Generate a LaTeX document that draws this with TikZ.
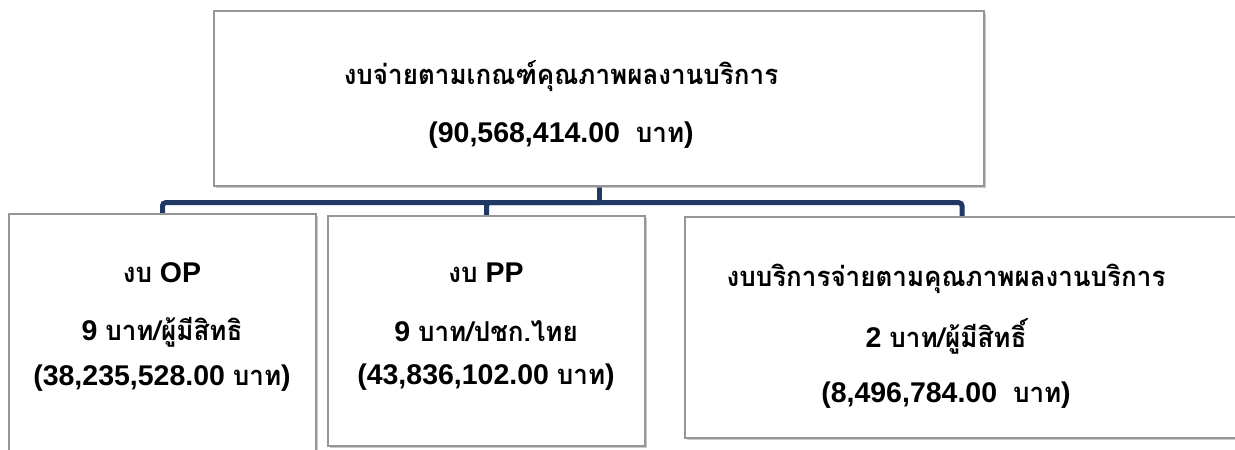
\documentclass[tikz,border=0pt]{standalone}
\usepackage{fontspec}
\setmainfont{Liberation Sans}
\newfontfamily\thaifont[Script=Thai,Scale=0.96,FakeStretch=0.95]{Loma}
\newcommand\thx[1]{{\thaifont\bfseries #1}}
\usetikzlibrary{shadows,backgrounds}
\definecolor{navy}{RGB}{31,56,100}
\definecolor{boxline}{RGB}{150,150,150}
\tikzset{
  box/.style={draw=boxline,line width=1.4pt,fill=white,inner sep=0pt,
    drop shadow={shadow xshift=2pt,shadow yshift=-2pt,fill=black!35,opacity=0.6}},
  conn/.style={draw=navy,line width=5pt,rounded corners=3pt},
  txt/.style={anchor=base,inner sep=0pt,font=\bfseries\fontsize{28.5}{33}\selectfont}
}
\begin{document}
\begin{tikzpicture}[x=1pt,y=-1pt]
\useasboundingbox (0,0) rectangle (1235,450);
\clip (0,0) rectangle (1235,450);
% boxes
\node[box,minimum width=770,minimum height=175] (top) at (599,98.5) {};
\node[box,minimum width=307,minimum height=256] (b1) at (162.5,342) {};
\node[box,minimum width=317,minimum height=230] (b2) at (486.5,331) {};
\node[box,minimum width=565,minimum height=221] (b3) at (967.5,327.5) {};
\coordinate (b3in) at ([xshift=-5.5pt]b3.north);
% connectors
\begin{scope}[on background layer]
\draw[conn] (top.south) -- ++(0,16) coordinate (j);
\draw[conn] (j) -| (b1.north);
\draw[conn] (j) -| (b2.north);
\draw[conn] (j) -| (b3in);
\end{scope}
% texts
\node[txt] (t1) at (561,84) {\thx{งบจ่ายตามเกณฑ์คุณภาพผลงานบริการ}};
\node[txt] (t2) at (561,142) {(90,568,414.00~~\thx{บาท})};
\node[txt] (a1) at (162,282) {\thx{งบ} OP};
\node[txt] (a2) at (162,340) {9 \thx{บาท/ผู้มีสิทธิ}};
\node[txt] (a3) at (162,385) {(38,235,528.00 \thx{บาท})};
\node[txt] (p1) at (486,282) {\thx{งบ} PP};
\node[txt] (p2) at (486,341) {9 \thx{บาท/ปชก.ไทย}};
\node[txt] (p3) at (486,384) {(43,836,102.00 \thx{บาท})};
\node[txt] (c1) at (946,286) {\thx{งบบริการจ่ายตามคุณภาพผลงานบริการ}};
\node[txt] (c2) at (946,347) {2 \thx{บาท/ผู้มีสิทธิ์}};
\node[txt] (c3) at (946,402) {(8,496,784.00~~\thx{บาท})};
\end{tikzpicture}
\end{document}
